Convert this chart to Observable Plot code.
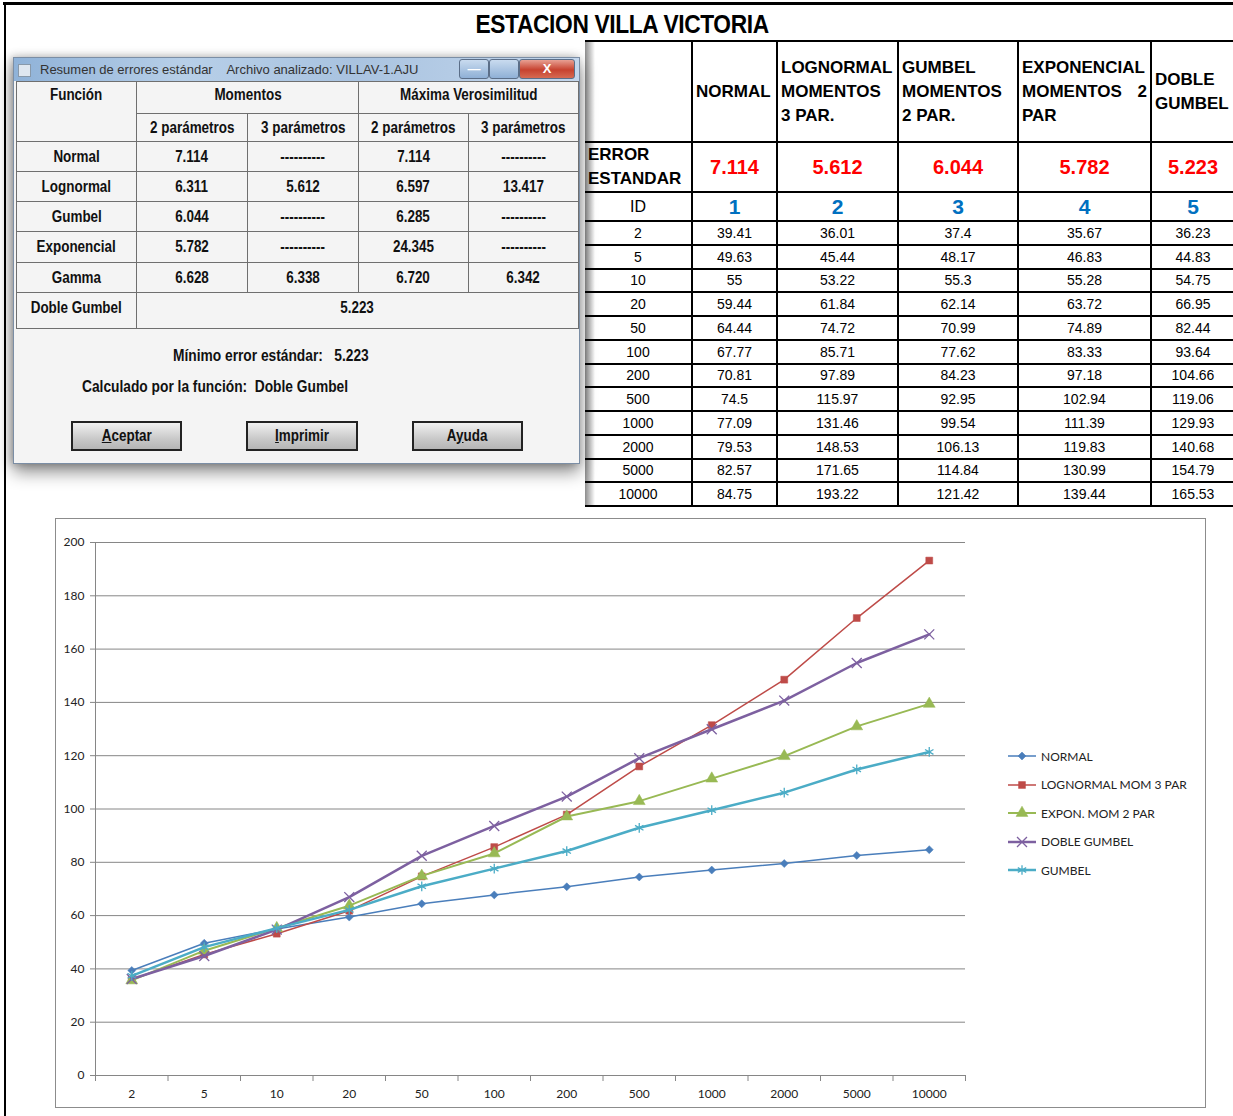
<!DOCTYPE html>
<html><head><meta charset="utf-8">
<script src="https://cdn.jsdelivr.net/npm/d3@7"></script>
<script src="https://cdn.jsdelivr.net/npm/@observablehq/plot@0.6"></script>
<style>
html,body{margin:0;padding:0;background:#fff;overflow:hidden}
#page{position:relative;width:1233px;height:1116px;overflow:hidden;background:#fff;font-family:"Liberation Sans",Arial,sans-serif}
#frameTop{position:absolute;left:3px;top:2px;width:1240px;height:3px;background:#000}
#frameLeft{position:absolute;left:4px;top:2px;width:2px;height:1120px;background:#000}
#title{position:absolute;left:0;top:10px;width:1244px;text-align:center;color:#000}
#title span{display:inline-block;font-family:"Liberation Sans",Arial,sans-serif;font-weight:bold;font-size:25px;letter-spacing:-0.4px;transform:scaleX(0.91);white-space:nowrap}
/* right table */
#rt{position:absolute;left:585px;top:40px;width:650px;border-collapse:collapse;table-layout:fixed;color:#000}
#rt td{border:2px solid #000;padding:0 3px;overflow:hidden}
#rt tr:first-child td{border-top:3px solid #000}
#rt td:first-child{border-left:none}
#rt .hd{font-weight:bold;font-size:17px;line-height:24px;text-align:justify;vertical-align:middle;padding:0 3px 0 3px}
#rt .err{font-weight:bold;font-size:20px;color:#ff0000;text-align:center}
#rt .id{font-weight:bold;font-size:21px;color:#0070c0;text-align:center}
#rt .dat{font-size:14px;text-align:center;padding:0}
#shadeL{position:absolute;left:585px;top:40px;width:10px;height:466px;background:linear-gradient(to right,rgba(0,0,0,0.45),rgba(0,0,0,0))}
/* dialog */
#dlg{position:absolute;left:13px;top:57px;width:565px;height:405px;background:#f4f4f4;border:1px solid #7b8ea5;box-shadow:0 8px 16px rgba(0,0,0,0.45),-2px 0 8px rgba(0,0,0,0.25);font-family:"Liberation Sans",Arial,sans-serif;font-weight:bold;font-size:16px;color:#111}
#dlg .c{display:inline-block;transform:scaleX(0.84);white-space:nowrap}
#dlg .cl{display:inline-block;transform:scaleX(0.86);transform-origin:left center;white-space:pre}
#tb{position:absolute;left:0;top:0;width:565px;height:23px;background:linear-gradient(to right,#8fb2d8,#b7cfe8 30%,#a9c3e0 60%,#c3d6ec);font-family:"Liberation Sans",Arial,sans-serif;font-weight:normal;font-size:13px;color:#333}
#tb .ic{position:absolute;left:4px;top:6px;width:11px;height:11px;background:#dfe7f0;border:1px solid #8899aa}
#tb .tt{position:absolute;left:26px;top:4px;white-space:pre}
#tb .wb{position:absolute;top:1px;height:18px;border:1px solid #5b6e88;border-radius:3px;color:#fff;text-align:center;font-weight:bold;line-height:17px}
#dt{position:absolute;left:2px;top:23px;width:562px;border-collapse:collapse;table-layout:fixed}
#dt td{border:1px solid #6f6f6f;text-align:center;padding:0;vertical-align:middle;overflow:hidden}
.btn{position:absolute;top:363px;height:26px;border:2px solid #222;background:linear-gradient(#f0f0f0,#c9c9c9 60%,#b5b5b5);text-align:center;line-height:26px;font-size:16px}
.btn u{text-decoration:underline}
.dtext{position:absolute;white-space:pre}
/* chart */
#chartBox{position:absolute;left:55px;top:518px;width:1151px;height:590px;border:1px solid #8c8c8c;box-sizing:border-box;background:#fff}
#chart{position:absolute;left:55px;top:518px}
#legend{position:absolute;left:1008px;top:742px;font-family:Lato,"Open Sans",sans-serif;font-size:12px;color:#222}
#legend .it{height:28.5px;display:flex;align-items:center}
#legend svg{margin-right:4px}
</style>
</head>
<body>
<div id="page">
  <div id="frameTop"></div>
  <div id="frameLeft"></div>
  <div id="title"><span>ESTACION VILLA VICTORIA</span></div>
  <div id="dlg"></div>
  <table id="rt"></table>
  <div id="shadeL"></div>
  <div id="chartBox"></div>
  <div id="chart"></div>
  <div id="legend"></div>
</div>
<script>
// ---------------- data ----------------
const periods = ["2","5","10","20","50","100","200","500","1000","2000","5000","10000"];
const normal      = [39.41,49.63,55,59.44,64.44,67.77,70.81,74.5,77.09,79.53,82.57,84.75];
const lognormal   = [36.01,45.44,53.22,61.84,74.72,85.71,97.89,115.97,131.46,148.53,171.65,193.22];
const gumbel      = [37.4,48.17,55.3,62.14,70.99,77.62,84.23,92.95,99.54,106.13,114.84,121.42];
const exponencial = [35.67,46.83,55.28,63.72,74.89,83.33,97.18,102.94,111.39,119.83,130.99,139.44];
const dobleGumbel = [36.23,44.83,54.75,66.95,82.44,93.64,104.66,119.06,129.93,140.68,154.79,165.53];

const tableHeaders = ["NORMAL","LOGNORMAL MOMENTOS 3 PAR.","GUMBEL MOMENTOS 2 PAR.","EXPONENCIAL MOMENTOS 2 PAR","DOBLE GUMBEL"];
const errorEstandar = ["7.114","5.612","6.044","5.782","5.223"];
const ids = [1,2,3,4,5];
const tableColumns = [normal, lognormal, gumbel, exponencial, dobleGumbel];

// dialog data
const dlgTitle = "Resumen de errores estándar    Archivo analizado: VILLAV-1.AJU";
const dlgFunctions = ["Normal","Lognormal","Gumbel","Exponencial","Gamma"];
const mom2 = ["7.114","6.311","6.044","5.782","6.628"];
const mom3 = ["----------","5.612","----------","----------","6.338"];
const mv2  = ["7.114","6.597","6.285","24.345","6.720"];
const mv3  = ["----------","13.417","----------","----------","6.342"];
const dobleGumbelError = "5.223";
const minError = "5.223";
const minFunction = "Doble Gumbel";

const legendNames = ["NORMAL","LOGNORMAL MOM 3 PAR","EXPON. MOM 2 PAR","DOBLE GUMBEL","GUMBEL"];
const legendValues = [normal, lognormal, exponencial, dobleGumbel, gumbel];
const yTicks = [0,20,40,60,80,100,120,140,160,180,200];

// ---------------- styles ----------------
const seriesStyle = [
  {color:"#4a7ebb", width:1.5, symbol:"diamond2", r:3.6, filled:true},
  {color:"#be4b48", width:1.5, symbol:"square",   r:3.9, filled:true},
  {color:"#98b954", width:2,   symbol:"triangle", r:4.4, filled:true},
  {color:"#7d60a0", width:2.5, symbol:"times",    r:4.6, filled:false},
  {color:"#4bacc6", width:2.5, symbol:"asterisk", r:4.6, filled:false}
];
const symMap = {diamond2:d3.symbolDiamond2, square:d3.symbolSquare, triangle:d3.symbolTriangle, times:d3.symbolTimes, asterisk:d3.symbolAsterisk};

// ---------------- right table ----------------
const rt = document.getElementById("rt");
const colW = [107,85,121,120,133,84];
const cg = document.createElement("colgroup");
colW.forEach(w=>{const c=document.createElement("col");c.style.width=w+"px";cg.appendChild(c);});
rt.appendChild(cg);
function row(h){const tr=document.createElement("tr");tr.style.height=h+"px";rt.appendChild(tr);return tr;}
function cell(tr,txt,cls,style){const td=document.createElement("td");if(cls)td.className=cls;td.textContent=txt;if(style)Object.assign(td.style,style);tr.appendChild(td);return td;}
let tr=row(101);
cell(tr,"","hd");
tableHeaders.forEach(h=>cell(tr,h,"hd"));
tr=row(50);
cell(tr,"ERROR ESTANDAR","hd",{textAlign:"left",lineHeight:"24px"});
errorEstandar.forEach(v=>cell(tr,v,"err"));
tr=row(29);
cell(tr,"ID","dat",{fontSize:"16px"});
ids.forEach(v=>cell(tr,String(v),"id"));
periods.forEach((p,i)=>{
  const r=row(23.75);
  cell(r,p,"dat");
  tableColumns.forEach(col=>cell(r,String(col[i]),"dat"));
});

// ---------------- dialog ----------------
const dlg = document.getElementById("dlg");
dlg.innerHTML = `<div id="tb"><div class="ic"></div><div class="tt"></div>
<div class="wb" style="left:445px;width:28px;background:linear-gradient(#c9dbef,#8fb0d6)">&#8212;</div>
<div class="wb" style="left:475px;width:28px;background:linear-gradient(#c9dbef,#8fb0d6)"></div>
<div class="wb" style="left:505px;width:54px;background:linear-gradient(#e8a093,#c7422f 55%,#d66a52)">X</div></div>`;
dlg.querySelector(".tt").textContent = dlgTitle;
const dt = document.createElement("table"); dt.id="dt"; dlg.appendChild(dt);
const dcw=[120,111,111,110,110];
const dcg=document.createElement("colgroup");
dcw.forEach(w=>{const c=document.createElement("col");c.style.width=w+"px";dcg.appendChild(c);});
dt.appendChild(dcg);
function drow(h){const t=document.createElement("tr");t.style.height=h+"px";dt.appendChild(t);return t;}
function dcell(t,txt,attrs,style){const td=document.createElement("td");const sp=document.createElement("span");sp.className="c";sp.textContent=txt;td.appendChild(sp);if(attrs)for(const k in attrs)td.setAttribute(k,attrs[k]);if(style)Object.assign(td.style,style);t.appendChild(td);return td;}
let d=drow(32);
dcell(d,"Función",{rowspan:2},{verticalAlign:"top",paddingTop:"4px"});
dcell(d,"Momentos",{colspan:2},{verticalAlign:"top",paddingTop:"4px"});
dcell(d,"Máxima Verosimilitud",{colspan:2},{verticalAlign:"top",paddingTop:"4px"});
d=drow(28);
["2 parámetros","3 parámetros","2 parámetros","3 parámetros"].forEach(s=>dcell(d,s));
const rh=[30,30,30,31,30];
dlgFunctions.forEach((f,i)=>{
  const t=drow(rh[i]);
  dcell(t,f);dcell(t,mom2[i]);dcell(t,mom3[i]);dcell(t,mv2[i]);dcell(t,mv3[i]);
});
d=drow(36);
dcell(d,"Doble Gumbel",{},{verticalAlign:"top",paddingTop:"6px"});
dcell(d,dobleGumbelError,{colspan:4},{verticalAlign:"top",paddingTop:"6px"});
function dtext(txt,l,t){const e=document.createElement("div");e.className="dtext";e.style.left=l+"px";e.style.top=t+"px";
  const sp=document.createElement("span");sp.className="cl";sp.textContent=txt;e.appendChild(sp);dlg.appendChild(e);}
dtext("Mínimo error estándar:   "+minError,159,289);
dtext("Calculado por la función:  "+minFunction,68,320);
[["A","ceptar",57,107],["I","mprimir",232,108],["A","yuda",398,107]].forEach(([a,b,l,w],k)=>{
  const bt=document.createElement("div");bt.className="btn";bt.style.left=l+"px";bt.style.width=w+"px";
  bt.innerHTML = k===2 ? '<span class="c">A<u>y</u>uda</span>' : '<span class="c"><u>'+a+'</u>'+b+'</span>';
  dlg.appendChild(bt);
});

// ---------------- chart ----------------
const marks = [
  Plot.gridY(yTicks, {stroke:"#868686", strokeOpacity:1, strokeWidth:1}),
  Plot.ruleX([-0.5], {stroke:"#868686"}),
  Plot.axisY(yTicks, {tickSize:5, tickPadding:6, stroke:"#868686", fill:"#222", label:null}),
  Plot.axisX(d3.range(13).map(i=>i-0.5), {tickSize:6, tickFormat:()=>"", stroke:"#868686", label:null}),
  Plot.axisX(d3.range(12), {tickSize:0, tickPadding:14, tickFormat:i=>periods[i], fill:"#222", label:null})
];
legendValues.forEach((vals,k)=>{
  const s=seriesStyle[k];
  const data=vals.map((v,i)=>({i,v}));
  marks.push(Plot.line(data,{x:"i",y:"v",stroke:s.color,strokeWidth:s.width}));
  marks.push(Plot.dot(data,{x:"i",y:"v",symbol:s.symbol,r:s.r,fill:s.filled?s.color:"none",stroke:s.color,strokeWidth:s.filled?0.5:1.3}));
});
const chart = Plot.plot({
  width:1151, height:590,
  marginLeft:40, marginRight:241, marginTop:24, marginBottom:33,
  x:{domain:[-0.5,11.5], axis:null},
  y:{domain:[0,200], axis:null},
  style:{fontFamily:"Lato, 'Open Sans', sans-serif", fontSize:"12px", background:"transparent", color:"#222"},
  marks
});
document.getElementById("chart").appendChild(chart);

// legend
const lg=document.getElementById("legend");
legendNames.forEach((n,k)=>{
  const s=seriesStyle[k];
  const it=document.createElement("div");it.className="it";
  const sv=d3.create("svg").attr("width",29).attr("height",14);
  sv.append("line").attr("x1",0).attr("x2",28).attr("y1",7).attr("y2",7).attr("stroke",s.color).attr("stroke-width",s.width);
  sv.append("path").attr("transform","translate(14,7)").attr("d",d3.symbol(symMap[s.symbol],Math.PI*s.r*s.r)())
    .attr("fill",s.filled?s.color:"none").attr("stroke",s.color).attr("stroke-width",s.filled?0.5:1.3);
  it.appendChild(sv.node());
  const sp=document.createElement("span");sp.textContent=n;it.appendChild(sp);
  lg.appendChild(it);
});
</script>
</body></html>
